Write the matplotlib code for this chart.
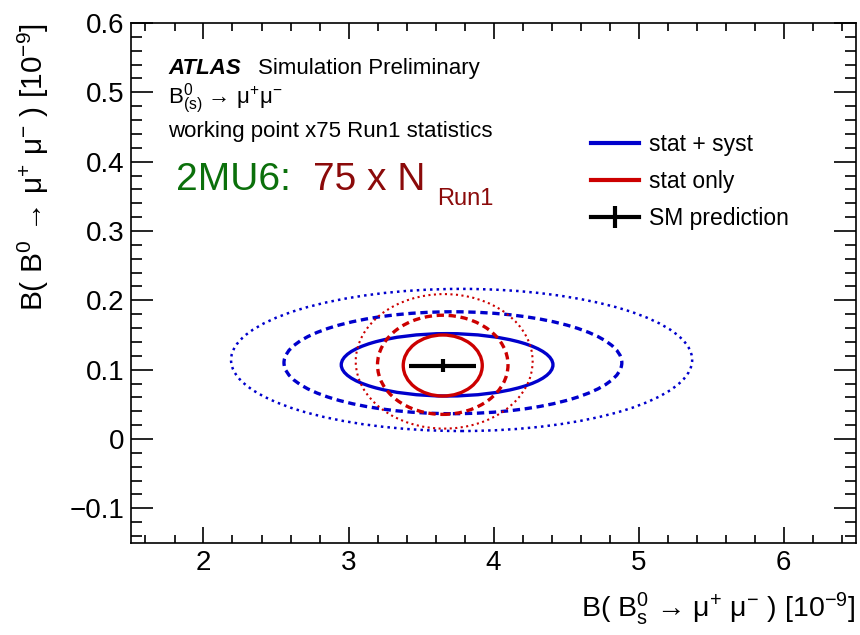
import matplotlib
matplotlib.use("Agg")
import matplotlib.pyplot as plt
from matplotlib.patches import Ellipse
from matplotlib.lines import Line2D
from matplotlib.ticker import MultipleLocator

plt.rcParams['font.family'] = ['Liberation Sans', 'DejaVu Sans']
plt.rcParams['mathtext.fontset'] = 'custom'
plt.rcParams['mathtext.rm'] = 'Liberation Sans'
plt.rcParams['mathtext.it'] = 'Liberation Sans:italic'
plt.rcParams['mathtext.bf'] = 'Liberation Sans:bold'
plt.rcParams['mathtext.default'] = 'regular'

# contour ellipses: centre x, centre y, full width, full height
syst_cx = [3.68, 3.72, 3.78]
syst_cy = [0.107, 0.110, 0.114]
syst_w = [1.46, 2.33, 3.18]
syst_h = [0.090, 0.147, 0.205]

stat_cx = [3.65, 3.65, 3.66]
stat_cy = [0.106, 0.107, 0.112]
stat_w = [0.545, 0.90, 1.22]
stat_h = [0.088, 0.143, 0.194]

sm_x = [3.65]
sm_y = [0.106]
sm_xerr = [0.23]
sm_yerr = [0.009]

blue = '#0000cc'
red = '#cc0000'

fig = plt.figure(figsize=(8.6, 6.35), dpi=100)
ax = fig.add_axes([131/860, 1-543/635, (856-131)/860, (543-23)/635])

syst_styles = [('-', 2.4), ((0, (2.2, 1.4)), 2.4), (':', 1.8)]
stat_styles = [('-', 2.4), ((0, (2.2, 1.4)), 2.4), (':', 1.5)]

for i in range(3):
    ax.add_patch(Ellipse((syst_cx[i], syst_cy[i]), syst_w[i], syst_h[i], fill=False,
                         edgecolor=blue, linestyle=syst_styles[i][0], linewidth=syst_styles[i][1]))
for i in range(3):
    ax.add_patch(Ellipse((stat_cx[i], stat_cy[i]), stat_w[i], stat_h[i], fill=False,
                         edgecolor=red, linestyle=stat_styles[i][0], linewidth=stat_styles[i][1]))

ax.errorbar(sm_x, sm_y, xerr=sm_xerr, yerr=sm_yerr, fmt='none', ecolor='black',
            elinewidth=3, capsize=0)

ax.set_xlim(1.5, 6.5)
ax.set_ylim(-0.15, 0.6)
ax.xaxis.set_major_locator(MultipleLocator(1))
ax.xaxis.set_minor_locator(MultipleLocator(0.2))
ax.yaxis.set_major_locator(MultipleLocator(0.1))
ax.yaxis.set_minor_locator(MultipleLocator(0.02))
ax.tick_params(which='both', direction='in', top=True, right=True, width=1.2, labelsize=20)
ax.tick_params(axis='x', which='major', length=11.5, pad=5)
ax.tick_params(axis='x', which='minor', length=5.8)
ax.tick_params(axis='y', which='major', length=16, pad=5)
ax.tick_params(axis='y', which='minor', length=8)
for s in ax.spines.values():
    s.set_linewidth(1.2)
ax.set_yticks([-0.1, 0, 0.1, 0.2, 0.3, 0.4, 0.5, 0.6])
ax.set_yticklabels(['\u22120.1', '0', '0.1', '0.2', '0.3', '0.4', '0.5', '0.6'])

ax.set_xlabel('B( B$^{0}_{s}$ \u2192 $\\mu^{+}$ $\\mu^{-}$ ) [10$^{-9}$]',
              fontsize=20.5, loc='right', labelpad=10)
ax.set_ylabel('B( B$^{0}$ \u2192 $\\mu^{+}$ $\\mu^{-}$ ) [10$^{-9}$]',
              fontsize=21.5, loc='top', labelpad=13)

def fx(px):
    return px / 860

def fy(py):
    return 1 - py / 635

fig.text(fx(168), fy(74), 'ATLAS', fontsize=16, fontweight='bold', fontstyle='italic')
fig.text(fx(258), fy(74), 'Simulation Preliminary', fontsize=16)
fig.text(fx(168), fy(104), 'B$^{0}_{(s)}$ \u2192 $\\mu^{+}\\mu^{-}$', fontsize=16)
fig.text(fx(168), fy(137), 'working point x75 Run1 statistics', fontsize=16)
fig.text(fx(176), fy(190), '2MU6:', fontsize=28, color='#0b700b')
fig.text(fx(313), fy(190), '75 x N', fontsize=28, color='#8b0a0a')
fig.text(fx(437), fy(205), 'Run1', fontsize=17, color='#8b0a0a')

h_syst = Line2D([], [], color=blue, lw=3)
h_stat = Line2D([], [], color=red, lw=3)
h_sm = (Line2D([], [], color='black', lw=3),
        Line2D([], [], color='black', lw=0, marker='|', markersize=16, markeredgewidth=3))
handles = [h_syst, h_stat, h_sm]
labels = ['stat + syst', 'stat only', 'SM prediction']
ax.legend(handles, labels, loc='upper left', bbox_to_anchor=(fx(591), fy(133)),
          bbox_transform=fig.transFigure, frameon=False, fontsize=16.5,
          handlelength=2.1, handletextpad=0.45, labelspacing=0.62, borderpad=0,
          borderaxespad=0)

fig.savefig('out.png', dpi=100)
